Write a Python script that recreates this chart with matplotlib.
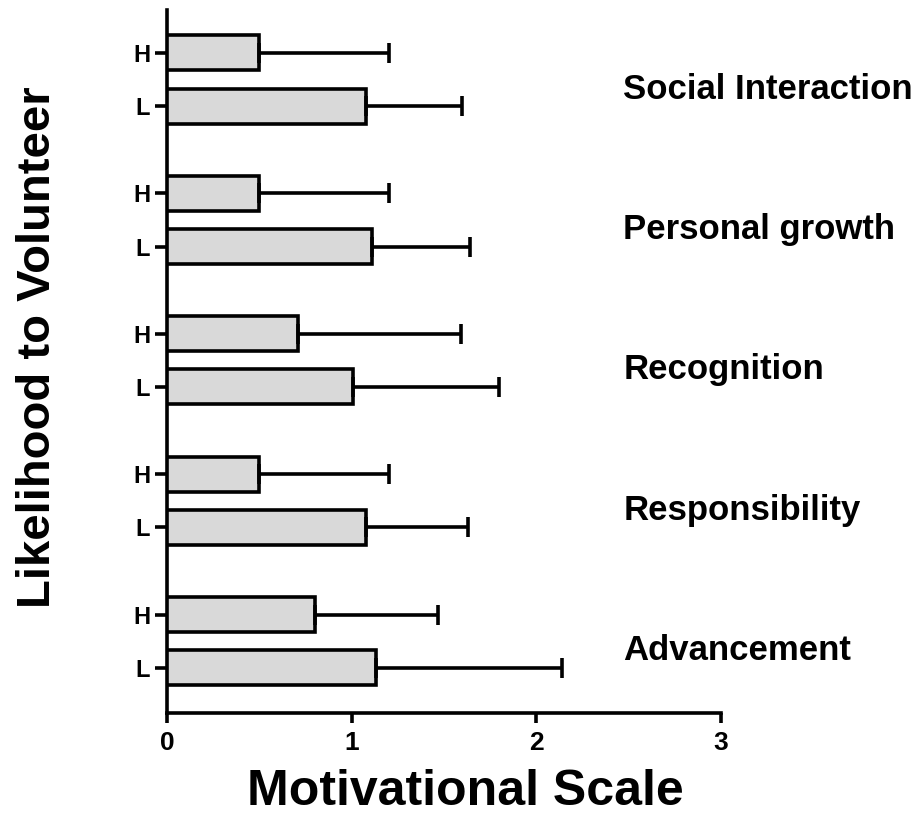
import numpy as np
import matplotlib
matplotlib.use("Agg")
import matplotlib.pyplot as plt

plt.rcParams['font.family'] = ['Liberation Sans', 'DejaVu Sans']
plt.rcParams['font.weight'] = 'bold'

# categories listed bottom to top
categories = ["Advancement", "Responsibility", "Recognition", "Personal growth", "Social Interaction"]
levels = ["L", "H"]

# mean motivational scale and upper error (SD) for each category
mean_low = [1.13, 1.08, 1.01, 1.11, 1.08]
err_low = [1.01, 0.55, 0.79, 0.53, 0.52]
mean_high = [0.80, 0.50, 0.71, 0.50, 0.50]
err_high = [0.67, 0.70, 0.88, 0.70, 0.70]

x_ticks = [0, 1, 2, 3]

fig = plt.figure(figsize=(9.22, 8.18), dpi=100)
ax = fig.add_axes([0.1811, 0.1284, 0.6009, 0.8594])

group_gap = 2.646
n = len(categories)
y_low = np.arange(n) * group_gap
y_high = y_low + 1.0
bar_h = 0.66
lw = 2.6

err_kw = dict(ecolor='black', elinewidth=lw, capsize=7.5, capthick=lw)
ax.barh(y_low, mean_low, height=bar_h, color='#d9d9d9', edgecolor='black', linewidth=lw,
        xerr=[np.zeros(n), err_low], error_kw=err_kw, zorder=3)
ax.barh(y_high, mean_high, height=bar_h, color='#d9d9d9', edgecolor='black', linewidth=lw,
        xerr=[np.zeros(n), err_high], error_kw=err_kw, zorder=3)

yt = np.sort(np.concatenate([y_low, y_high]))
ax.set_yticks(yt)
ax.set_yticklabels(levels * n, fontsize=17, fontweight='bold')

ax.set_xlim(0, 3)
ax.set_ylim(-0.85, (n - 1) * group_gap + 1.81)
ax.set_xticks(x_ticks)
ax.set_xticklabels([str(t) for t in x_ticks], fontsize=19, fontweight='bold')

for s in ['top', 'right']:
    ax.spines[s].set_visible(False)
for s in ['left', 'bottom']:
    ax.spines[s].set_linewidth(lw)
ax.tick_params(axis='both', width=lw, direction='out')
ax.tick_params(axis='x', length=7, pad=6)
ax.tick_params(axis='y', length=9, pad=3)

for i, cat in enumerate(categories):
    ax.text(2.47, (y_low[i] + y_high[i]) / 2 - 0.18, cat, fontsize=25, fontweight='bold',
            va='center', ha='left', clip_on=False)

ax.set_xlabel("Motivational Scale", fontsize=36, fontweight='bold')
ax.xaxis.set_label_coords(0.538, -0.112)
ax.xaxis.label.set_va('center')
ax.set_ylabel("Likelihood to Volunteer", fontsize=34, fontweight='bold')
ax.yaxis.set_label_coords(-0.232, 0.52)
ax.yaxis.label.set_va('center')

fig.savefig("out.png", dpi=100)
